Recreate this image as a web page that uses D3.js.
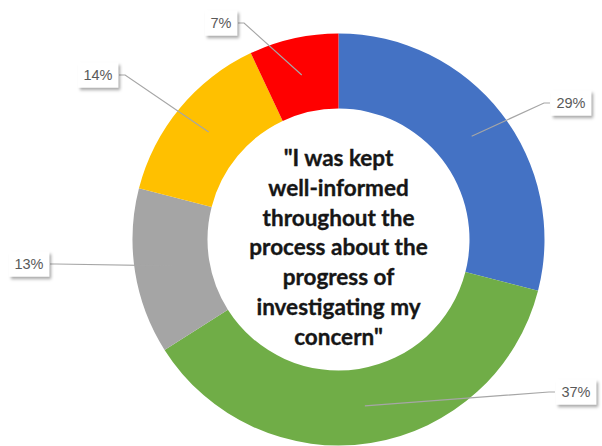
<!DOCTYPE html>
<html>
<head>
<meta charset="utf-8">
<script src="https://cdn.jsdelivr.net/npm/d3@7"></script>
<style>
  html, body { margin: 0; padding: 0; background: #fff; }
  svg { display: block; }
</style>
</head>
<body>
<script>
// Survey responses, clockwise from 12 o'clock
const categories = ["Strongly agree", "Agree", "Neutral", "Disagree", "Strongly disagree"];
const values = [29, 37, 13, 14, 7];
const valueLabels = ["29%", "37%", "13%", "14%", "7%"];
const colors = ["#4472C4", "#70AD47", "#A5A5A5", "#FFC000", "#FF0000"];
const centerLines = [
  "\"I was kept",
  "well-informed",
  "throughout the",
  "process about the",
  "progress of",
  "investigating my",
  "concern\""
];

// Layout
const W = 602, H = 446;
const cx = 338.5, cy = 239.5;
const rOuter = 206, rInner = 131;
// Data-label box centres (callouts), same order as categories
const labelSpots = [[571, 103], [576, 392], [29, 264], [98, 75], [221, 23]];

const svg = d3.select("body").append("svg")
  .attr("width", W).attr("height", H);

const defs = svg.append("defs");
const f = defs.append("filter").attr("id", "boxShadow")
  .attr("x", "-30%").attr("y", "-30%").attr("width", "160%").attr("height", "170%");
f.append("feDropShadow")
  .attr("dx", 2).attr("dy", 2.5).attr("stdDeviation", 1.6)
  .attr("flood-color", "#000").attr("flood-opacity", 0.35);

const rows = categories.map((c, i) => ({ cat: c, value: values[i], label: valueLabels[i], color: colors[i], spot: labelSpots[i] }));

const pie = d3.pie().value(d => d.value).sort(null)
  .startAngle(0).endAngle(2 * Math.PI);
const arc = d3.arc().innerRadius(rInner).outerRadius(rOuter);
const arcs = pie(rows);

const g = svg.append("g").attr("transform", `translate(${cx},${cy})`);

g.selectAll("path.slice").data(arcs).enter().append("path")
  .attr("class", "slice")
  .attr("d", arc)
  .attr("fill", d => d.data.color);

// Centre caption
const lineGap = 29.8;
const mid = (centerLines.length - 1) / 2;
g.append("text")
  .attr("text-anchor", "middle")
  .attr("font-family", "Lato, 'Open Sans', sans-serif")
  .attr("font-weight", 700)
  .attr("font-size", 22.5)
  .attr("fill", "#161616")
  .attr("stroke", "#161616")
  .attr("stroke-width", 0.35)
  .selectAll("tspan").data(centerLines).enter().append("tspan")
  .attr("x", 0)
  .attr("y", (d, i) => 8 + (i - mid) * lineGap)
  .attr("dy", "0.35em")
  .text(d => d);

// Callout labels with leader lines
const labelG = svg.append("g");
arcs.forEach(d => {
  const [lx, ly] = d.data.spot;
  const t = labelG.append("text")
    .attr("x", lx).attr("y", ly).attr("dy", "0.36em")
    .attr("text-anchor", "middle")
    .attr("font-family", "'Liberation Sans', Arial, sans-serif")
    .attr("font-size", 14.5)
    .attr("fill", "#595959")
    .text(d.data.label);
  const bb = t.node().getBBox();
  const padX = 5.5;
  const bx = bb.x - padX, bw = bb.width + 2 * padX;
  const by = ly - 12.5, bh = 25;

  const [mx, my] = arc.centroid(d);
  const tx = cx + mx, ty = cy + my;
  const fromLeft = tx > lx;
  const sx = fromLeft ? bx + bw + 1 : bx - 1;
  const kx = fromLeft ? sx + 6 : sx - 6;
  labelG.insert("path", "text")
    .attr("d", `M${sx},${ly}L${kx},${ly}L${tx},${ty}`)
    .attr("fill", "none")
    .attr("stroke", "#A6A6A6")
    .attr("stroke-width", 1.2);
  labelG.insert("rect", "text")
    .attr("x", bx).attr("y", by).attr("width", bw).attr("height", bh)
    .attr("fill", "#fff")
    .attr("filter", "url(#boxShadow)");
});
</script>
</body>
</html>
